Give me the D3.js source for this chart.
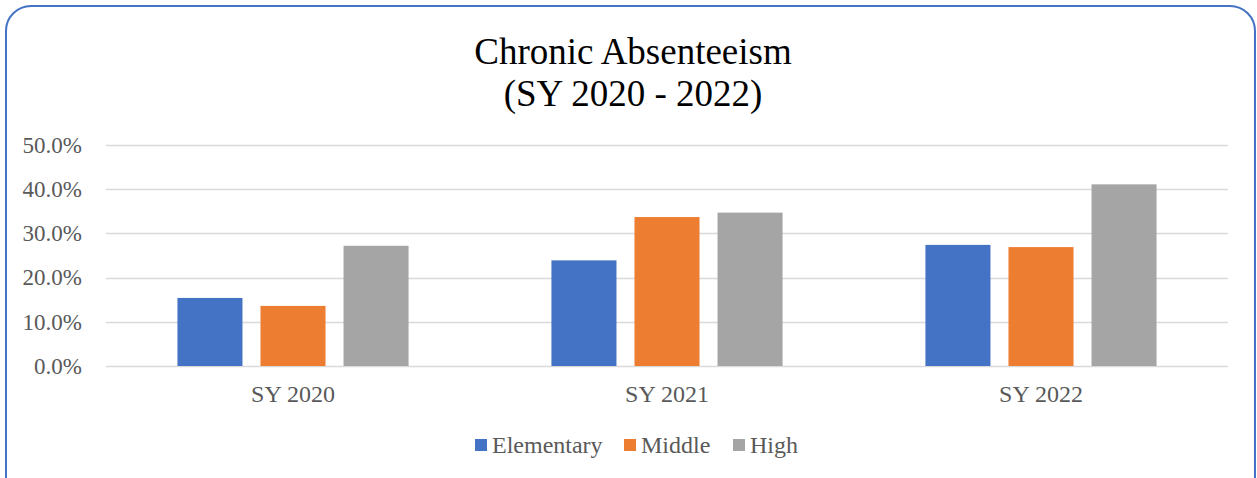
<!DOCTYPE html>
<html><head><meta charset="utf-8">
<script src="https://cdn.jsdelivr.net/npm/d3@7"></script>
<style>html,body{margin:0;padding:0;background:#fff;}</style>
</head><body>
<svg id="chart" width="1257" height="478"></svg>
<script>
const categories = ["SY 2020", "SY 2021", "SY 2022"];
const seriesNames = ["Elementary", "Middle", "High"];
const elementary = [0.154, 0.239, 0.274];
const middle = [0.136, 0.337, 0.269];
const high = [0.272, 0.347, 0.411];
const yTicks = [0, 0.1, 0.2, 0.3, 0.4, 0.5];
const colors = ["#4472C4", "#ED7D31", "#A5A5A5"];
const titleLines = ["Chronic Absenteeism", "(SY 2020 - 2022)"];

(function () {
const seriesValues = [elementary, middle, high];
const svg = d3.select("#chart");
const font = "'Liberation Serif','Times New Roman',serif";

svg.append("rect").attr("x", 6).attr("y", 6).attr("width", 1249).attr("height", 500)
  .attr("rx", 25).attr("ry", 25).attr("fill", "#fff").attr("stroke", "#4472C4").attr("stroke-width", 2);

const pLeft = 106, pRight = 1228, pTop = 145, pBottom = 366;
const x0 = d3.scaleBand().domain(categories).range([pLeft, pRight]).paddingInner(0.382).paddingOuter(0.191);
const x1 = d3.scaleBand().domain(seriesNames).range([0, x0.bandwidth()]).paddingInner(0.217).paddingOuter(0);
const y = d3.scaleLinear().domain([0, 0.5]).range([pBottom, pTop]);

svg.append("g").selectAll("line").data(yTicks).join("line")
  .attr("x1", pLeft).attr("x2", pRight)
  .attr("y1", d => Math.round(y(d)) + 0.5).attr("y2", d => Math.round(y(d)) + 0.5)
  .attr("stroke", "#D9D9D9").attr("stroke-width", 1.5);

const yAxis = d3.axisLeft(y).tickValues(yTicks).tickFormat(d3.format(".1%")).tickSize(0).tickPadding(0);
const ya = svg.append("g").attr("transform", `translate(82,0)`).call(yAxis);
ya.select(".domain").remove();
ya.selectAll("text").attr("font-family", font).attr("font-size", 23).attr("fill", "#595959");

const groups = svg.append("g").selectAll("g").data(categories).join("g")
  .attr("transform", d => `translate(${x0(d)},0)`);
groups.selectAll("rect").data((c, i) => seriesNames.map((s, j) => ({s, v: seriesValues[j][i], j})))
  .join("rect")
  .attr("x", d => x1(d.s)).attr("width", x1.bandwidth())
  .attr("y", d => y(d.v)).attr("height", d => y(0) - y(d.v))
  .attr("fill", d => colors[d.j]);

const xAxis = d3.axisBottom(x0).tickSize(0).tickPadding(0);
const xa = svg.append("g").attr("transform", `translate(0,385)`).call(xAxis);
xa.select(".domain").remove();
xa.selectAll("text").attr("font-family", font).attr("font-size", 24).attr("fill", "#595959");

svg.append("g").selectAll("text").data(titleLines).join("text")
  .attr("x", 633).attr("y", (d, i) => 64 + i * 42)
  .attr("text-anchor", "middle").attr("font-family", font).attr("font-size", 37).attr("fill", "#000")
  .text(d => d);

const legX = [475, 624, 733];
const leg = svg.append("g").selectAll("g").data(seriesNames).join("g")
  .attr("transform", (d, i) => `translate(${legX[i]},439)`);
leg.append("rect").attr("width", 12).attr("height", 12).attr("fill", (d, i) => colors[i]);
leg.append("text").attr("x", 17).attr("y", 14).attr("font-family", font).attr("font-size", 24)
  .attr("fill", "#595959").text(d => d);
})();
</script>
</body></html>
